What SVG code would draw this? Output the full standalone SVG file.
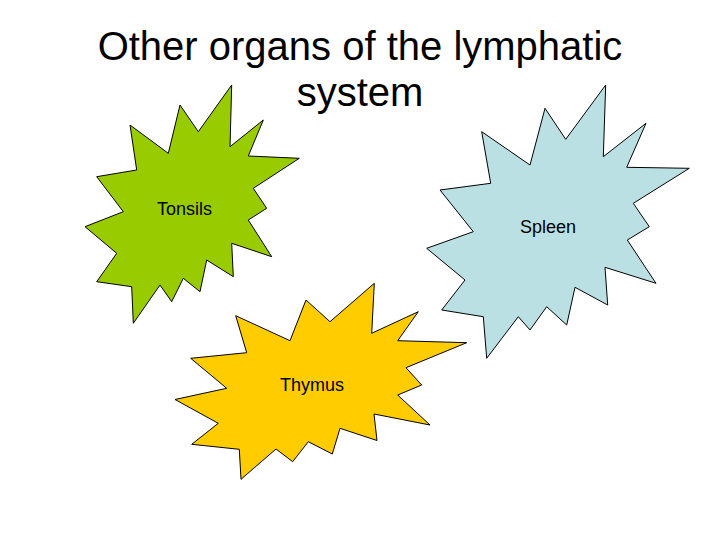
<svg xmlns="http://www.w3.org/2000/svg" width="720" height="540" viewBox="0 0 720 540">
<style>
.star{stroke:#000;stroke-width:1;stroke-linejoin:miter}
.lbl{font-family:"Liberation Sans",Arial,sans-serif;font-size:18px;fill:#000}
.title{font-family:"Liberation Sans",Arial,sans-serif;font-size:40px;fill:#000;text-anchor:middle}
</style>
<rect width="720" height="540" fill="#fff"/>
<g id="title">
<text class="title" x="360" y="60">Other organs of the lymphatic</text>
<text class="title" x="360" y="106">system</text>
</g>
<g id="tonsils">
<polygon class="star" fill="#99CC00" points="231.7,85 230,146.7 263.3,120 248.3,156 299.3,158.3 253.3,188.3 266.7,208.3 248.3,220 271.7,256.7 231.7,243.3 233.3,276.7 206.7,260 200,291.7 183.3,278.3 171.7,301.7 160,285 133.3,323.3 131.7,286.7 96.7,281.7 116.7,253.3 85,226.7 123.3,211.7 96.7,176.7 136.7,170 130,125 168.3,153.3 180,105 198.3,131.7"/>
<text class="lbl" x="157" y="215">Tonsils</text>
</g>
<g id="spleen">
<polygon class="star" fill="#BBE0E3" points="605.7,85 603.3,156.7 646,123.3 626.7,167.3 689.3,168.3 633.3,203.3 649.3,226.7 627.3,240 656,283.3 605,267.3 607.7,305 575,287.3 566.7,325 546.7,306.7 530,330 518.3,316.7 486.7,358.3 483.3,316.7 441.7,310 465,280 426.7,248.3 473.3,231.7 440,190 490.7,183.3 481.7,131.7 530,165 545,108.3 565.7,139.3"/>
<text class="lbl" x="520" y="233">Spleen</text>
</g>
<g id="thymus">
<polygon class="star" fill="#FFCC00" points="374.3,283.3 371.7,333.3 418.3,311.7 397.7,340.7 466.7,342.7 406,367.7 421.7,385 397.7,395 430,425 374,414 377,440.5 340,428.3 332.3,454 308.3,441.7 292.7,461.7 276,449 241,479.3 239.3,449.3 191.7,444.3 218.3,423.3 175,399.5 226.7,388.3 190.7,358.3 246.7,352.7 235.7,315.7 290,340.7 306,300 330,321.7"/>
<text class="lbl" x="280" y="391">Thymus</text>
</g>
<g id="connectors"/>
</svg>
